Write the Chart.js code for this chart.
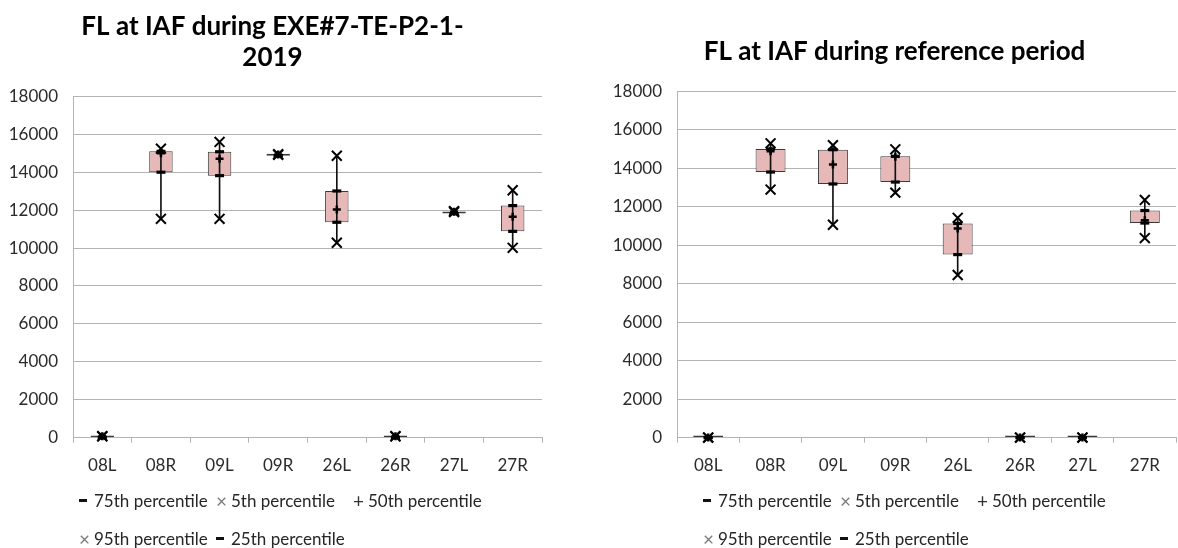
<!DOCTYPE html>
<html>
<head>
<meta charset="utf-8">
<script src="https://cdn.jsdelivr.net/npm/chart.js@4"></script>
<style>
    html, body { margin: 0; padding: 0; background: #fff; overflow: hidden; }
    body { width: 1178px; height: 548px; position: relative; font-family: Lato, sans-serif; }
    .panel { position: absolute; top: 0; }
    #panel-exe { left: 0; width: 552px; height: 489px; }
    #panel-ref { left: 605px; width: 580px; height: 489px; }
    .legend {
        position: absolute;
        display: grid;
        grid-template-columns: 137px 137px 137px;
        grid-auto-rows: 38px;
        font-size: 17px;
        color: #262626;
    }
    .legend .item { display: flex; align-items: center; white-space: nowrap; }
    .legend .mk { display: inline-block; width: 15px; text-align: left; color: #7a7a7a; font-size: 19px; line-height: 1; }
    .legend .dash { display: inline-block; width: 8px; height: 3px; background: #111; margin-right: 7px; }
    #legend-exe { left: 79px; top: 481px; }
    #legend-ref { left: 703px; top: 481px; }
</style>
</head>
<body>
<div class="panel" id="panel-exe"><canvas id="chart-exe"></canvas></div>
<div class="panel" id="panel-ref"><canvas id="chart-ref"></canvas></div>

<div class="legend" id="legend-exe">
    <div class="item"><span class="dash"></span>75th percentile</div>
    <div class="item"><span class="mk">×</span>5th percentile</div>
    <div class="item"><span class="mk" style="color:#333">+</span>50th percentile</div>
    <div class="item"><span class="mk">×</span>95th percentile</div>
    <div class="item"><span class="dash"></span>25th percentile</div>
</div>
<div class="legend" id="legend-ref">
    <div class="item"><span class="dash"></span>75th percentile</div>
    <div class="item"><span class="mk">×</span>5th percentile</div>
    <div class="item"><span class="mk" style="color:#333">+</span>50th percentile</div>
    <div class="item"><span class="mk">×</span>95th percentile</div>
    <div class="item"><span class="dash"></span>25th percentile</div>
</div>

<script>
// runways (categories)
const runways = ["08L", "08R", "09L", "09R", "26L", "26R", "27L", "27R"];

// FL at IAF during EXE#7-TE-P2-1-2019
const exeP75 = [0, 15100, 15080, 14870, 13010, 0, 11820, 12240];
const exeP25 = [0, 14000, 13820, 14870, 11360, 0, 11820, 10880];
const exeP50 = [70, 15000, 14710, 14930, 12030, 70, 11920, 11650];
const exeP95 = [80, 15240, 15600, 14950, 14870, 80, 11950, 13050];
const exeP5  = [60, 11540, 11540, 14920, 10280, 60, 11900, 10010];

// FL at IAF during reference period
const refP75 = [0, 15000, 14960, 14620, 11130, 0, 0, 11800];
const refP25 = [0, 13800, 13180, 13280, 9510, 0, 0, 11150];
const refP50 = [0, 14880, 14190, 14600, 10870, 0, 0, 11300];
const refP95 = [0, 15290, 15190, 14980, 11420, 0, 0, 12350];
const refP5  = [0, 12890, 11060, 12730, 8450, 0, 0, 10370];

// axis range
const yMin = 0;
const yMax = 18000;
const yStep = 2000;

const gridColor = "#b4b4b4";
const textColor = "#2b2b2b";

Chart.defaults.font.family = "Lato";
Chart.defaults.color = textColor;
Chart.defaults.animation = false;

function markerSet(label, values, style, radius, width) {
    return {
        type: "line",
        label: label,
        data: values,
        showLine: false,
        pointStyle: style,
        pointRadius: radius,
        pointBorderWidth: width,
        borderColor: "#000",
        backgroundColor: "#000",
        clip: false,
        order: 0
    };
}

function makeChart(canvasId, title, s, cfg) {
    const ctx = document.getElementById(canvasId).getContext("2d");
    const boxes = s.p25.map((v, i) => [v, s.p75[i]]);
    const whiskers = s.p5.map((v, i) => [v, s.p95[i]]);

    return new Chart(ctx, {
        type: "bar",
        data: {
            labels: runways,
            datasets: [
                markerSet("75th percentile", s.p75, "line", 4.5, 3.2),
                markerSet("5th percentile", s.p5, "crossRot", 7, 2),
                markerSet("50th percentile", s.p50, "cross", 4, 2.5),
                markerSet("95th percentile", s.p95, "crossRot", 7, 2),
                markerSet("25th percentile", s.p25, "line", 4.5, 3.2),
                {
                    label: "whisker",
                    data: whiskers,
                    backgroundColor: "#111",
                    barThickness: 1,
                    grouped: false,
                    clip: false,
                    order: 1
                },
                {
                    label: "box",
                    data: boxes,
                    backgroundColor: "#e6b9b8",
                    borderColor: "#3a3a3a",
                    borderWidth: 1,
                    borderSkipped: false,
                    minBarLength: 2,
                    barPercentage: cfg.barPct,
                    categoryPercentage: 1,
                    grouped: false,
                    clip: false,
                    order: 2
                }
            ]
        },
        options: {
            responsive: true,
            maintainAspectRatio: false,
            layout: { padding: cfg.padding },
            plugins: {
                legend: { display: false },
                tooltip: { enabled: false },
                title: {
                    display: true,
                    text: title,
                    color: "#000",
                    font: { size: 26, weight: "bold", lineHeight: 1.2 },
                    padding: cfg.titlePad
                }
            },
            scales: {
                x: {
                    offset: true,
                    grid: {
                        offset: true,
                        drawOnChartArea: false,
                        drawTicks: true,
                        tickLength: 5,
                        color: gridColor
                    },
                    border: { color: gridColor },
                    ticks: { font: { size: 17 }, padding: 13, color: textColor }
                },
                y: {
                    min: yMin,
                    max: yMax,
                    grid: { color: gridColor, drawTicks: false },
                    border: { color: gridColor },
                    ticks: {
                        stepSize: yStep,
                        font: { size: 17 },
                        padding: 15,
                        color: textColor,
                        callback: (v) => String(v)
                    },
                    afterFit: (scale) => { scale.width = cfg.axisWidth; }
                }
            }
        }
    });
}

makeChart("chart-exe", ["FL at IAF during EXE#7-TE-P2-1-", "2019"],
    { p75: exeP75, p25: exeP25, p50: exeP50, p95: exeP95, p5: exeP5 },
    {
        barPct: 0.4,
        padding: { left: 3, right: 10, top: 0, bottom: 0 },
        titlePad: { top: 11, bottom: 23 },
        axisWidth: 70
    });

makeChart("chart-ref", "FL at IAF during reference period",
    { p75: refP75, p25: refP25, p50: refP50, p95: refP95, p5: refP5 },
    {
        barPct: 0.48,
        padding: { left: 4, right: 5, top: 0, bottom: 0 },
        titlePad: { top: 36, bottom: 24 },
        axisWidth: 68
    });
</script>
</body>
</html>
